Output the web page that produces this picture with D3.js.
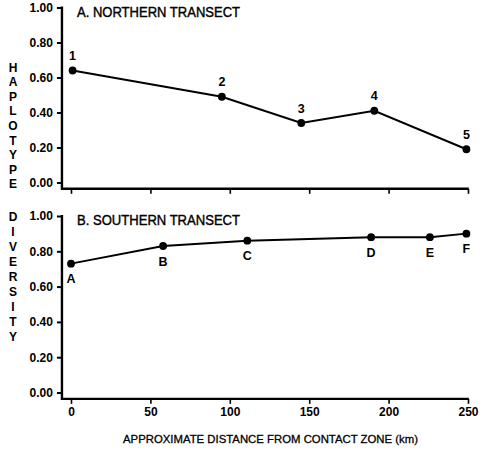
<!DOCTYPE html>
<html>
<head>
<meta charset="utf-8">
<script src="https://cdn.jsdelivr.net/npm/d3@7"></script>
<style>
  html, body { margin: 0; padding: 0; background: #fff; }
  svg { display: block; font-family: "Liberation Sans", Arial, Helvetica, sans-serif; }
  .tick text { font-weight: bold; }
</style>
</head>
<body>
<svg id="chart" width="488" height="452"></svg>
<script>
// Northern transect: sampling sites 1-5
const northDist = [1, 95, 145, 191, 249];
const northDiv = [0.64, 0.49, 0.34, 0.41, 0.19];
const northLabels = ["1", "2", "3", "4", "5"];

// Southern transect: sampling sites A-F
const southDist = [0, 58, 111, 189, 226, 249];
const southDiv = [0.73, 0.83, 0.86, 0.88, 0.88, 0.90];
const southLabels = ["A", "B", "C", "D", "E", "F"];

const yTicks = [0, 0.2, 0.4, 0.6, 0.8, 1.0];
const xTicks = [0, 50, 100, 150, 200, 250];
const yLetters = ["H", "A", "P", "L", "O", "T", "Y", "P", "E", "D", "I", "V", "E", "R", "S", "I", "T", "Y"];

const svg = d3.select("#chart");

const x = d3.scaleLinear().domain([0, 250]).range([71, 468]);
const xStart = -5.7;

const panels = [
  { title: "A.  NORTHERN TRANSECT", dist: northDist, div: northDiv, labels: northLabels,
    y: d3.scaleLinear().domain([0, 1]).range([182.5, 7.5]), labelDy: -15, showXLabels: false },
  { title: "B.  SOUTHERN TRANSECT", dist: southDist, div: southDiv, labels: southLabels,
    y: d3.scaleLinear().domain([0, 1]).range([392.5, 216]), labelDy: 15, showXLabels: true }
];

panels.forEach(p => {
  const g = svg.append("g");
  const y = p.y;
  const baseY = y(-0.036);
  const axisX = x(xStart);

  // y axis
  const yAxis = d3.axisLeft(y).tickValues(yTicks).tickFormat(d3.format(".2f"))
    .tickSize(5).tickPadding(4);
  const ya = g.append("g").attr("transform", `translate(${axisX},0)`).call(yAxis);
  ya.select(".domain").remove();
  ya.selectAll(".tick line").attr("stroke", "#000").attr("stroke-width", 2);
  ya.selectAll(".tick text").attr("font-size", 12).attr("fill", "#000");

  // x axis
  const xAxis = d3.axisBottom(x).tickValues(xTicks).tickFormat(p.showXLabels ? d3.format("d") : "")
    .tickSize(5).tickPadding(4);
  const xa = g.append("g").attr("transform", `translate(0,${baseY})`).call(xAxis);
  xa.select(".domain").remove();
  xa.selectAll(".tick line").attr("stroke", "#000").attr("stroke-width", 1.6);
  xa.selectAll(".tick text").attr("font-size", 12).attr("fill", "#000");

  // axis frame lines
  g.append("path")
    .attr("d", `M${axisX},${y(1) - 1}V${baseY}H${x(250) + 0.8}`)
    .attr("fill", "none").attr("stroke", "#000").attr("stroke-width", 2.4);

  // panel title
  g.append("text").attr("x", 77).attr("y", y(1) + 9)
    .attr("font-size", 14).attr("textLength", 163).attr("lengthAdjust", "spacingAndGlyphs")
    .attr("stroke", "#000").attr("stroke-width", 0.4)
    .text(p.title);

  const pts = p.dist.map((d, i) => [x(d), y(p.div[i])]);

  g.append("path").attr("d", d3.line()(pts))
    .attr("fill", "none").attr("stroke", "#000").attr("stroke-width", 1.9);

  g.selectAll("circle").data(pts).join("circle")
    .attr("cx", d => d[0]).attr("cy", d => d[1]).attr("r", 3.9).attr("fill", "#000");

  g.selectAll("text.pl").data(pts).join("text").attr("class", "pl")
    .attr("x", d => d[0]).attr("y", d => d[1] + p.labelDy)
    .attr("dy", "0.36em").attr("text-anchor", "middle")
    .attr("font-size", 12.5).attr("font-weight", "bold")
    .text((d, i) => p.labels[i]);
});

// stacked vertical axis title
yLetters.forEach((ch, i) => {
  const cy = i < 9 ? 67.5 + i * 14.55 : 216.5 + (i - 9) * 15;
  svg.append("text").attr("x", 13).attr("y", cy).attr("dy", "0.36em")
    .attr("text-anchor", "middle").attr("font-size", 12).attr("font-weight", "bold")
    .text(ch);
});

// x axis title
svg.append("text").attr("x", 270.5).attr("y", 439).attr("dy", "0.36em")
  .attr("text-anchor", "middle").attr("font-size", 11.5)
  .attr("textLength", 295).attr("lengthAdjust", "spacingAndGlyphs")
  .attr("stroke", "#000").attr("stroke-width", 0.3)
  .text("APPROXIMATE DISTANCE FROM CONTACT ZONE (km)");
</script>
</body>
</html>
